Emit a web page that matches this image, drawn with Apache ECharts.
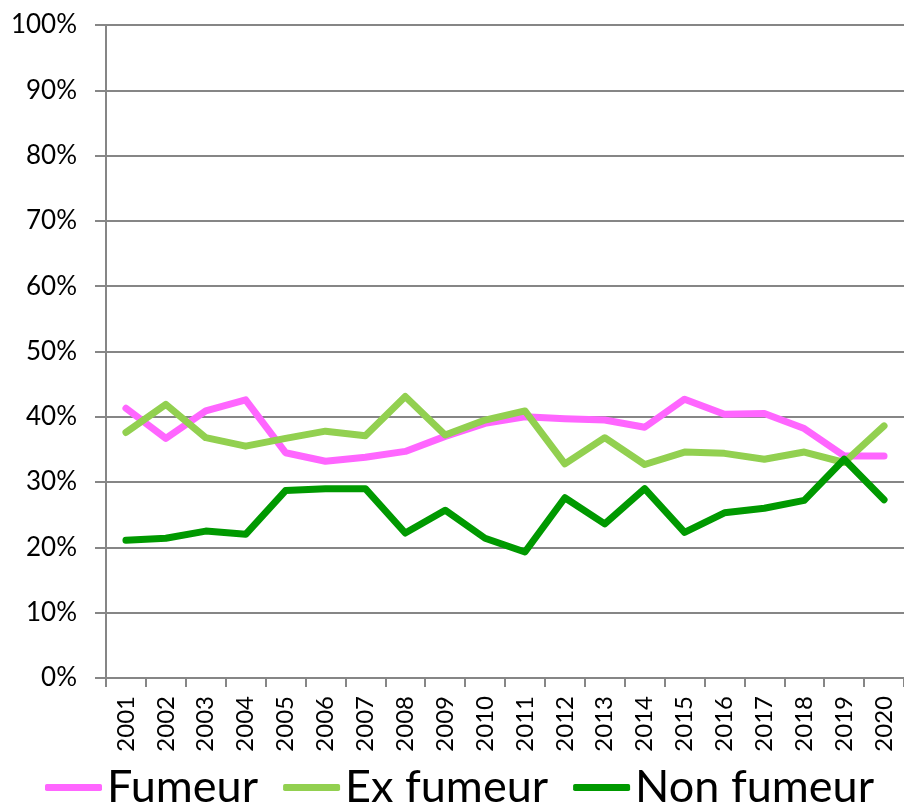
<!DOCTYPE html>
<html>
<head>
  <meta charset="utf-8">
  <title>Fumeur / Ex fumeur / Non fumeur</title>
  <script src="https://cdn.jsdelivr.net/npm/echarts@6/dist/echarts.min.js"></script>
  <style>
    html, body { margin: 0; padding: 0; background: #fff; }
    #main { width: 904px; height: 808px; }
  </style>
</head>
<body>
<div id="main"></div>
<script>
// années
var years = ['2001','2002','2003','2004','2005','2006','2007','2008','2009','2010',
             '2011','2012','2013','2014','2015','2016','2017','2018','2019','2020'];
// valeurs en %
var fumeur    = [41.3, 36.7, 40.9, 42.6, 34.5, 33.2, 33.8, 34.7, 37.0, 39.0,
                 40.0, 39.7, 39.5, 38.4, 42.7, 40.4, 40.5, 38.2, 34.0, 34.0];
var exFumeur  = [37.6, 41.9, 36.8, 35.5, 36.7, 37.8, 37.1, 43.1, 37.2, 39.5,
                 40.9, 32.8, 36.8, 32.7, 34.6, 34.4, 33.5, 34.6, 33.0, 38.6];
var nonFumeur = [21.1, 21.4, 22.5, 22.0, 28.7, 29.0, 29.0, 22.2, 25.7, 21.4,
                 19.3, 27.6, 23.6, 29.0, 22.3, 25.3, 26.0, 27.2, 33.5, 27.3];

var gris = '#868686';
var myChart = echarts.init(document.getElementById('main'));

function serie(nom, data, couleur) {
  return {
    name: nom,
    type: 'line',
    data: data,
    symbol: 'none',
    lineStyle: { color: couleur, width: 7, join: 'round', cap: 'round' },
    itemStyle: { color: couleur }
  };
}

var option = {
  animation: false,
  grid: { left: 106, top: 25, width: 800, bottom: 130, containLabel: false },
  legend: {
    left: 40,
    top: 760,
    itemWidth: 57,
    itemHeight: 7,
    itemGap: 25,
    icon: 'roundRect',
    textStyle: { fontSize: 45, color: '#000', fontFamily: 'Lato' },
    data: ['Fumeur', 'Ex fumeur', 'Non fumeur']
  },
  xAxis: {
    type: 'category',
    data: years,
    boundaryGap: true,
    axisLine: { lineStyle: { color: gris, width: 2 } },
    axisTick: { show: true, interval: 0, length: 9, lineStyle: { color: gris, width: 2 } },
    axisLabel: { rotate: 90, interval: 0, margin: 18, fontSize: 24, color: '#000', fontFamily: 'Lato' }
  },
  yAxis: {
    type: 'value',
    min: 0,
    max: 100,
    interval: 10,
    axisLine: { show: true, lineStyle: { color: gris, width: 2 } },
    axisTick: { show: true, length: 11, lineStyle: { color: gris, width: 2 } },
    splitLine: { lineStyle: { color: gris, width: 2 } },
    axisLabel: { formatter: '{value}%', margin: 29, fontSize: 26, color: '#000', fontFamily: 'Lato' }
  },
  series: [
    serie('Fumeur', fumeur, '#FF66FF'),
    serie('Ex fumeur', exFumeur, '#92D050'),
    serie('Non fumeur', nonFumeur, '#009900')
  ]
};

myChart.setOption(option);
</script>
</body>
</html>
